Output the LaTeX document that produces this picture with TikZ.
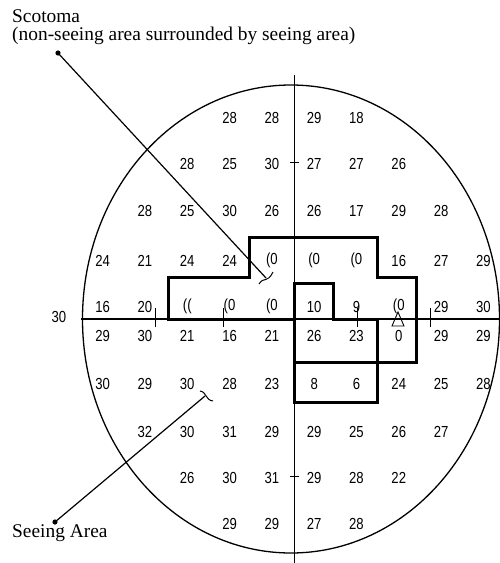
\documentclass[tikz,border=0pt]{standalone}
\usepackage{fontspec}
\setmainfont{Liberation Serif}
\newfontfamily\numfont[FakeStretch=0.82]{Liberation Sans}
\newcommand\sco{(0}
\newcommand\scb{((}
\begin{document}
\begin{tikzpicture}[x=1pt,y=-1pt,
  num/.style={font=\numfont\fontsize{16}{16}\selectfont, inner sep=0pt},
  lbl/.style={font=\fontsize{19.4}{17.5}\selectfont, inner sep=0pt, anchor=base west},
  axisline/.style={line width=1.1pt},
  rim/.style={line width=1.3pt},
  bnd/.style={line width=3pt, line join=miter, line cap=rect},
  ptr/.style={line width=1.2pt},
  tickmark/.style={line width=1pt}]
\useasboundingbox (0,0) rectangle (500,563);

% labels
\node[lbl, anchor=north west, align=left] (scot) at (12,9.6)
  {Scotoma\\(non-seeing area surrounded by seeing area)};
\node[lbl] (seeing) at (12,537) {Seeing Area};
\node[num] (left30) at (59,317) {30};

% field boundary and axes
\draw[rim] (291,319) ellipse [x radius=208.5, y radius=234];
\draw[axisline] (81,319) -- (500,319);
\draw[axisline] (294.5,75) -- (294.5,563);

% ticks
\foreach \tx in {155,223,357,430} \draw[tickmark] (\tx,308) -- (\tx,327);
\foreach \ty in {162,476} \draw[tickmark] (290,\ty) -- (299,\ty);

% blind spot
\draw[line width=0.9pt] (398,312) -- (392,326) -- (404,326) -- cycle;

% thresholds
\foreach \r/\y/\ks/\vals in {
  1/118/-2/{28,28,29,18},
  2/164/-3/{28,25,30,27,27,26},
  3/211/-4/{28,25,30,26,26,17,29,28},
  4/260.5/-5/{24,21,24,24,\sco,\sco,\sco,16,27,29},
  5/306.5/-5/{16,20,\scb,\sco,\sco,10,9,\sco,29,30},
  6/336/-5/{29,30,21,16,21,26,23,0,29,29},
  7/384/-5/{30,29,30,28,23,8,6,24,25,28},
  8/432/-4/{32,30,31,29,29,25,26,27},
  9/477.5/-3/{26,30,31,29,28,22},
  10/524/-2/{29,29,27,28}}{
  \foreach \v [count=\i from 0] in \vals {
    \pgfmathsetmacro\xx{293+42.3*(\ks+\i+0.5)}
    \node[num] (n\r-\i) at (\xx,\y) {\v};
  }
}

% scotoma outline
\draw[bnd] (168,319) -- (168,277) -- (249,277) -- (249,237) -- (377,237)
  -- (377,277) -- (416,277) -- (416,362) -- (294.5,362);
\draw[bnd] (168,319) -- (294.5,319);
\draw[bnd] (294.5,283) -- (333,283) -- (333,319) -- (377,319) -- (377,402)
  -- (294.5,402) -- cycle;

% pointers
\coordinate (sdot) at (58,53);
\coordinate (send) at (266,278);
\draw[ptr] (sdot) -- (send);
\fill (sdot) circle (2.6);
\draw[line width=1pt] (259,284) .. controls (264,276) and (267,284) .. (273,272);

\coordinate (adot) at (55,522);
\coordinate (aend) at (205,396);
\draw[ptr] (adot) -- (aend);
\fill (adot) circle (2.6);
\draw[line width=1pt] (200,391) .. controls (207,392) and (205,400) .. (213,401);
\end{tikzpicture}
\end{document}
